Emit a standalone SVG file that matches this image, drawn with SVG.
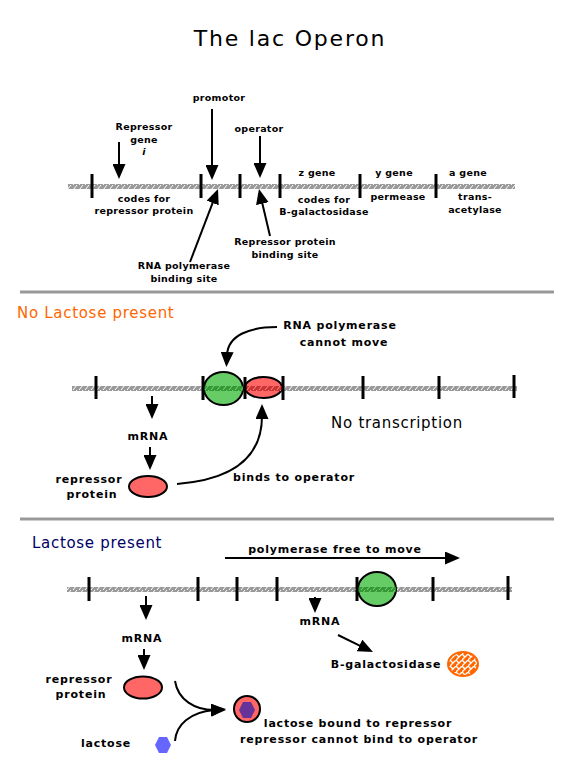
<svg xmlns="http://www.w3.org/2000/svg" width="576" height="776" viewBox="0 0 576 776">
<style>
  .lbl { font-family: "DejaVu Sans", sans-serif; font-weight: bold; font-size: 9.5px; letter-spacing: 0.3px; fill: #000; text-anchor: middle; }
  .lb2 { font-family: "DejaVu Sans", sans-serif; font-weight: bold; font-size: 11px; letter-spacing: 0.8px; fill: #000; text-anchor: middle; }
  .big { font-family: "DejaVu Sans", sans-serif; font-size: 15px; letter-spacing: 0.7px; }
  .tick { stroke: #000; stroke-width: 3; }
  .arr { stroke: #000; stroke-width: 2; fill: none; marker-end: url(#ah); }
  .div { stroke: #999; stroke-width: 3; }
  .rep { fill: #FF6666; stroke: #000; stroke-width: 2; }
  .pol { fill: #66CC66; stroke: #000; stroke-width: 2; }
</style>
<defs>
  <marker id="ah" viewBox="0 0 15 13" refX="3" refY="6.5" markerWidth="15" markerHeight="13" markerUnits="userSpaceOnUse" orient="auto">
    <path d="M0,0 L15,6.5 L0,13 z" fill="#000"/>
  </marker>
  <pattern id="dna" patternUnits="userSpaceOnUse" width="6" height="5">
    <rect width="6" height="5" fill="#999"/>
    <path d="M1,5 L5,0" stroke="#fff" stroke-width="1"/>
  </pattern>
  <pattern id="dnaG" patternUnits="userSpaceOnUse" width="6" height="5">
    <rect width="6" height="5" fill="#339933"/>
    <path d="M1,5 L5,0" stroke="#7fcf7f" stroke-width="1"/>
  </pattern>
  <pattern id="dnaR" patternUnits="userSpaceOnUse" width="6" height="5">
    <rect width="6" height="5" fill="#CC3333"/>
    <path d="M1,5 L5,0" stroke="#ff8a8a" stroke-width="1"/>
  </pattern>
  <pattern id="hatch" patternUnits="userSpaceOnUse" width="6" height="6">
    <rect width="6" height="6" fill="#FF6600"/>
    <path d="M0,6 L6,0 M0,0 L3,3" stroke="#fff" stroke-width="1.3"/>
  </pattern>
  <clipPath id="c2g"><ellipse cx="223.5" cy="388.5" rx="19.5" ry="16.5"/></clipPath>
  <clipPath id="c2r"><ellipse cx="263.5" cy="387.5" rx="18.5" ry="10.5"/></clipPath>
  <clipPath id="c3g"><ellipse cx="377" cy="589" rx="19" ry="17"/></clipPath>
</defs>
<rect width="576" height="776" fill="#fff"/>

<text x="290" y="46" font-family="DejaVu Sans, sans-serif" font-size="22" letter-spacing="1.8" text-anchor="middle">The lac Operon</text>

<!-- Section 1 -->
<g id="dna1">
  <rect x="68" y="184" width="447" height="5" fill="url(#dna)"/>
  <line class="tick" x1="92" y1="174" x2="92" y2="198"/>
  <line class="tick" x1="201" y1="174" x2="201" y2="198"/>
  <line class="tick" x1="240" y1="174" x2="240" y2="198"/>
  <line class="tick" x1="280" y1="174" x2="280" y2="198"/>
  <line class="tick" x1="360" y1="174" x2="360" y2="198"/>
  <line class="tick" x1="436" y1="174" x2="436" y2="198"/>
</g>
<g id="repressor-gene">
  <text class="lbl" x="144" y="130">Repressor</text>
  <text class="lbl" x="144" y="143">gene</text>
  <text class="lbl" x="144" y="155" font-style="italic">i</text>
  <text class="lbl" x="144" y="202">codes for</text>
  <text class="lbl" x="144" y="214">repressor protein</text>
</g>
<g id="promotor"><text class="lbl" x="219" y="101">promotor</text></g>
<g id="operator"><text class="lbl" x="259" y="132">operator</text></g>
<g id="z-gene">
  <text class="lbl" x="317" y="176">z gene</text>
  <text class="lbl" x="324" y="203">codes for</text>
  <text class="lbl" x="324" y="215">B-galactosidase</text>
</g>
<g id="y-gene">
  <text class="lbl" x="394" y="176">y gene</text>
  <text class="lbl" x="398" y="200">permease</text>
</g>
<g id="a-gene">
  <text class="lbl" x="468" y="176">a gene</text>
  <text class="lbl" x="475" y="200">trans-</text>
  <text class="lbl" x="475" y="213">acetylase</text>
</g>
<g id="rnap-site">
  <text class="lbl" x="184" y="269">RNA polymerase</text>
  <text class="lbl" x="184" y="282">binding site</text>
</g>
<g id="rep-site">
  <text class="lbl" x="285" y="245">Repressor protein</text>
  <text class="lbl" x="285" y="258">binding site</text>
</g>

<line class="div" x1="20" y1="292" x2="554" y2="292"/>

<!-- Section 2 -->
<g id="title-nolac"><text class="big" x="17" y="318" fill="#FF6600">No Lactose present</text></g>
<g id="dna2">
  <rect x="72" y="386" width="445" height="5" fill="url(#dna)"/>
  <line class="tick" x1="96" y1="376" x2="96" y2="399"/>
  <line class="tick" x1="363" y1="376" x2="363" y2="399"/>
  <line class="tick" x1="439" y1="376" x2="439" y2="399"/>
  <line class="tick" x1="514" y1="375" x2="514" y2="398"/>
</g>
<g id="polymerase-blocked">
  <ellipse class="pol" cx="223.5" cy="388.5" rx="19.5" ry="16.5"/>
  <rect x="200" y="386" width="50" height="5" fill="url(#dnaG)" clip-path="url(#c2g)"/>
</g>
<g id="repressor-bound">
  <ellipse class="rep" cx="263.5" cy="387.5" rx="18.5" ry="10.5"/>
  <rect x="240" y="386" width="50" height="5" fill="url(#dnaR)" clip-path="url(#c2r)"/>
  <line class="tick" x1="203" y1="376" x2="203" y2="400"/>
  <line class="tick" x1="245" y1="377" x2="245" y2="399"/>
  <line class="tick" x1="283" y1="376" x2="283" y2="400"/>
</g>
<g id="cannot-move">
  <text class="lb2" x="340" y="329">RNA polymerase</text>
  <text class="lb2" x="344" y="346">cannot move</text>
</g>
<g id="no-transcription"><text class="big" x="397" y="428" text-anchor="middle" letter-spacing="0.9">No transcription</text></g>
<g id="mrna2"><text class="lb2" x="148" y="440">mRNA</text></g>
<g id="repressor2">
  <ellipse class="rep" cx="148" cy="486.5" rx="19" ry="10.5"/>
  <text class="lb2" x="89" y="483">repressor</text>
  <text class="lb2" x="92" y="498">protein</text>
</g>
<g id="binds"><text class="lb2" x="294" y="481">binds to operator</text></g>

<line class="div" x1="20" y1="519" x2="554" y2="519"/>

<!-- Section 3 -->
<g id="title-lac"><text class="big" x="32" y="548" fill="#000066">Lactose present</text></g>
<g id="free-move"><text class="lb2" x="335" y="553">polymerase free to move</text></g>
<g id="dna3">
  <rect x="67" y="587" width="445" height="5" fill="url(#dna)"/>
  <line class="tick" x1="89" y1="577" x2="89" y2="601"/>
  <line class="tick" x1="198" y1="577" x2="198" y2="601"/>
  <line class="tick" x1="237" y1="577" x2="237" y2="601"/>
  <line class="tick" x1="277" y1="577" x2="277" y2="601"/>
  <line class="tick" x1="433" y1="577" x2="433" y2="601"/>
  <line class="tick" x1="508" y1="576" x2="508" y2="600"/>
</g>
<g id="polymerase-moving">
  <ellipse class="pol" cx="377" cy="589" rx="19" ry="17"/>
  <rect x="355" y="587" width="45" height="5" fill="url(#dnaG)" clip-path="url(#c3g)"/>
  <line class="tick" x1="357" y1="577" x2="357" y2="601"/>
</g>
<g id="mrna3a"><text class="lb2" x="142" y="642">mRNA</text></g>
<g id="repressor3">
  <ellipse class="rep" cx="143" cy="687.5" rx="19" ry="11"/>
  <text class="lb2" x="79" y="683">repressor</text>
  <text class="lb2" x="81" y="698">protein</text>
</g>
<g id="lactose">
  <polygon points="155,745 159,737 167,737 171,745 167,753 159,753" fill="#6666FF"/>
  <text class="lb2" x="106" y="747">lactose</text>
</g>
<g id="complex">
  <circle cx="247" cy="709" r="13" fill="#FF6666" stroke="#000" stroke-width="2"/>
  <polygon points="239,710 243,702 251,702 255,710 251,718 243,718" fill="#663399"/>
  <text class="lb2" x="358" y="727">lactose bound to repressor</text>
  <text class="lb2" x="359" y="743">repressor cannot bind to operator</text>
</g>
<g id="mrna3b"><text class="lb2" x="320" y="625">mRNA</text></g>
<g id="bgal">
  <text class="lb2" x="386" y="668">B-galactosidase</text>
  <ellipse cx="463" cy="664" rx="15" ry="12" fill="url(#hatch)" stroke="#FF6600" stroke-width="2"/>
</g>

<g id="connectors">
  <line class="arr" x1="119" y1="142" x2="119" y2="167"/>
  <line class="arr" x1="212" y1="109" x2="212" y2="168"/>
  <line class="arr" x1="260" y1="136" x2="260" y2="166"/>
  <line class="arr" x1="190" y1="262" x2="213.7" y2="200.2"/>
  <line class="arr" x1="270" y1="236" x2="261.7" y2="200.7"/>
  <path class="arr" d="M277,327 C250,327 228,335 227,355"/>
  <line class="arr" x1="152" y1="396" x2="152" y2="407"/>
  <line class="arr" x1="150" y1="447" x2="150" y2="458"/>
  <path class="arr" d="M177,484 C230,480 262,460 262,416"/>
  <line class="arr" x1="225" y1="558" x2="448" y2="558"/>
  <line class="arr" x1="146" y1="596" x2="146" y2="608"/>
  <line class="arr" x1="144" y1="649" x2="144" y2="658"/>
  <line class="arr" x1="315" y1="597" x2="315" y2="601"/>
  <line class="arr" x1="338" y1="635" x2="362.2" y2="646.8"/>
  <path class="arr" d="M175,681 C178,700 195,710 214,710"/>
  <path class="arr" d="M175,741 C176,725 190,712 214,710"/>
</g>
</svg>
